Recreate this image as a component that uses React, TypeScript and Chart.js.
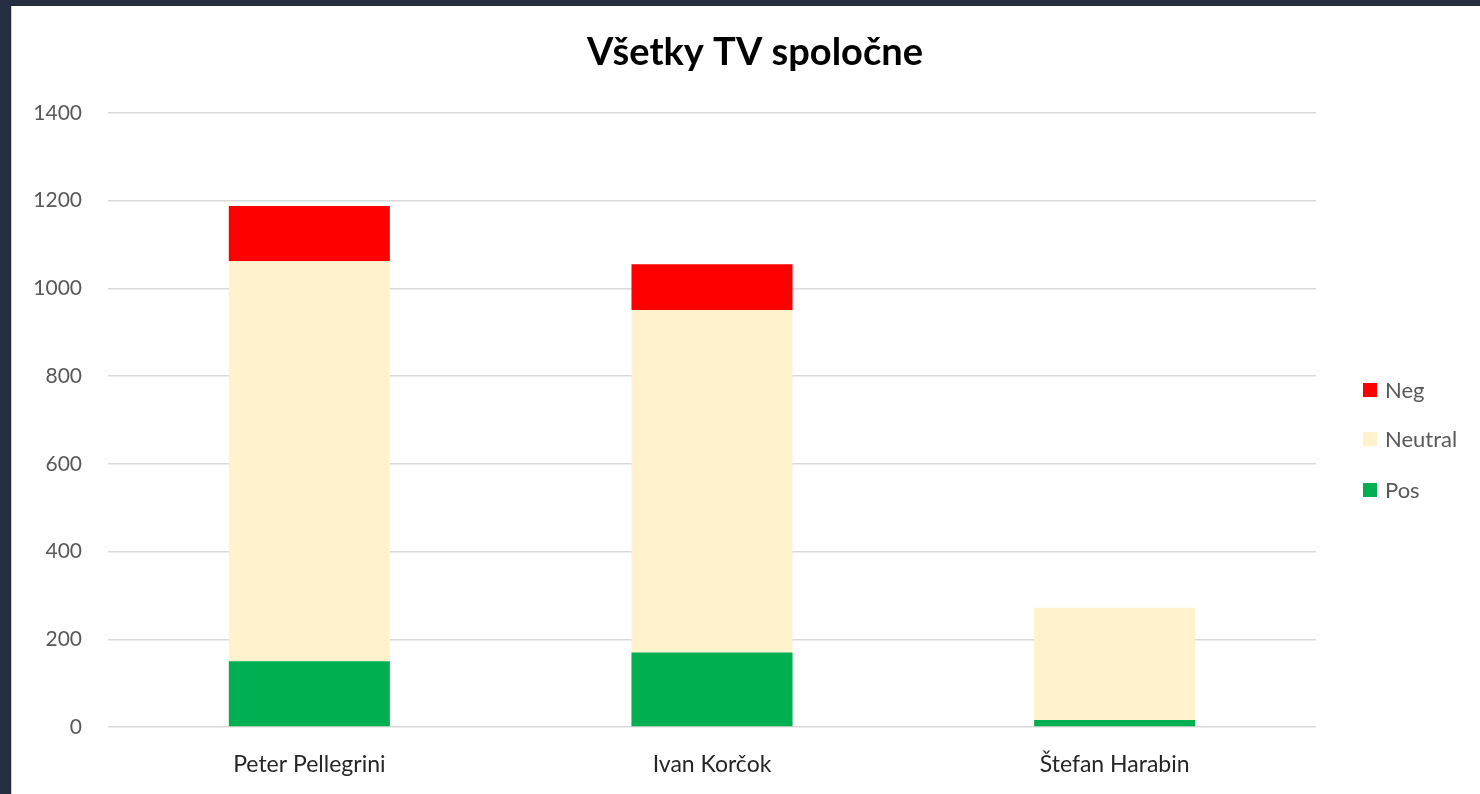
import React, { useEffect, useRef } from "react";
import { Chart, registerables } from "chart.js";

Chart.register(...registerables);

const categories = ["Peter Pellegrini", "Ivan Korčok", "Štefan Harabin"];
const posValues = [150, 170, 16];
const neutralValues = [912, 781, 256];
const negValues = [126, 104, 0];
const yTicks = [0, 200, 400, 600, 800, 1000, 1200, 1400];
const titleText = "Všetky TV spoločne";

const FONT = "Lato, 'Open Sans', sans-serif";

const overlayPlugin = {
  id: "overlay",
  afterDraw(chart: any) {
    const ctx = chart.ctx;
    ctx.save();
    // title
    ctx.font = `bold 38px ${FONT}`;
    ctx.fillStyle = "#000000";
    ctx.textAlign = "center";
    ctx.textBaseline = "middle";
    ctx.fillText(titleText, 743, 47);
    // legend (reverse order: Neg, Neutral, Pos)
    const ds = chart.data.datasets.slice().reverse();
    const ys = [384, 433, 484];
    ctx.font = `22px ${FONT}`;
    ctx.textAlign = "left";
    ds.forEach((d: any, i: number) => {
      const y = ys[i];
      ctx.fillStyle = d.backgroundColor;
      ctx.fillRect(1351, y - 7, 14, 14);
      ctx.fillStyle = "#595959";
      ctx.fillText(d.label, 1373, y + 1);
    });
    ctx.restore();
  },
};

export default function App() {
  const ref = useRef<HTMLCanvasElement | null>(null);
  useEffect(() => {
    if (!ref.current) return;
    const chart = new Chart(ref.current, {
      type: "bar",
      data: {
        labels: categories,
        datasets: [
          { label: "Pos", data: posValues, backgroundColor: "#00b050" },
          { label: "Neutral", data: neutralValues, backgroundColor: "#fff2cc" },
          { label: "Neg", data: negValues, backgroundColor: "#ff0000" },
        ],
      },
      options: {
        animation: false,
        responsive: false,
        maintainAspectRatio: false,
        layout: { padding: { left: 0, top: 107, right: 164, bottom: 0 } },
        plugins: {
          legend: { display: false },
          title: { display: false },
          tooltip: { enabled: false },
        },
        datasets: { bar: { barPercentage: 0.4, categoryPercentage: 1 } },
        scales: {
          x: {
            stacked: true,
            grid: { display: false, drawTicks: false },
            border: { display: false },
            ticks: {
              padding: 24,
              color: "#262626",
              font: { family: FONT, size: 23 },
            },
            afterFit: (s: any) => {
              s.height = 67;
            },
          },
          y: {
            stacked: true,
            min: 0,
            max: 1400,
            afterBuildTicks: (s: any) => {
              s.ticks = yTicks.map((v) => ({ value: v }));
            },
            grid: { color: "#d9d9d9", lineWidth: 1.5, drawTicks: false },
            border: { display: false },
            ticks: {
              padding: 26,
              color: "#595959",
              font: { family: FONT, size: 21 },
              callback: (v: any) => String(v),
            },
            afterFit: (s: any) => {
              s.width = 96;
            },
          },
        },
      },
      plugins: [overlayPlugin],
    });
    return () => chart.destroy();
  }, []);

  return (
    <div
      style={{
        position: "fixed",
        left: 0,
        top: 0,
        width: 1480,
        height: 794,
        background: "#252d40",
      }}
    >
      <div
        style={{
          position: "absolute",
          left: 11,
          top: 6,
          width: 1469,
          height: 788,
          background: "#ffffff",
          borderLeft: "1px solid #d0d0d0",
          boxSizing: "border-box",
        }}
      >
        <canvas ref={ref} width={1468} height={788} style={{ display: "block" }} />
      </div>
    </div>
  );
}
